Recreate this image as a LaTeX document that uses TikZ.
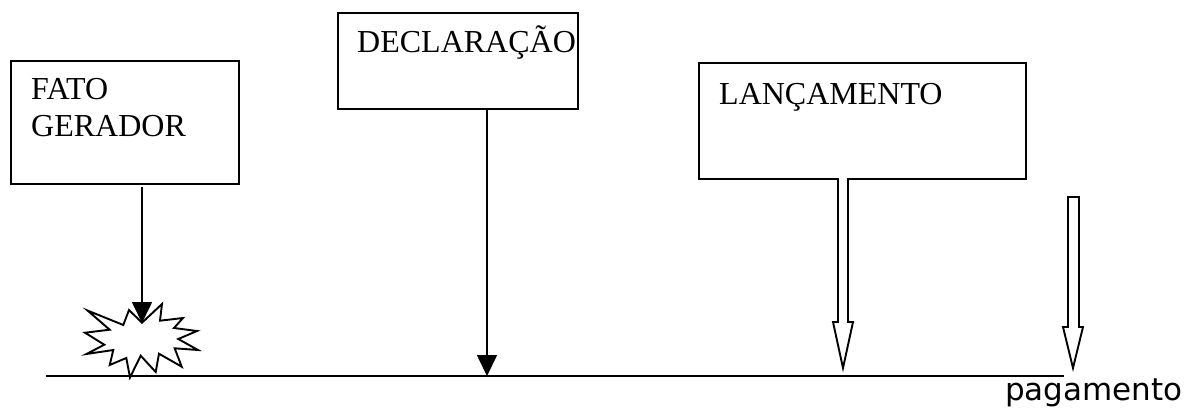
\documentclass[tikz,border=0pt]{standalone}
\usepackage{fontspec}
\setmainfont{Liberation Serif}
\newfontfamily\labelfont{DejaVu Sans}
\usetikzlibrary{arrows.meta}
\tikzset{
  boxnode/.style={draw=black,line width=2pt,fill=white,inner sep=0pt,anchor=north west},
  boxtext/.style={inner sep=0pt,anchor=base west,font=\fontsize{32}{36}\selectfont},
  thinarrow/.style={draw=black,line width=1.7pt,-{Triangle[length=21pt,width=20pt]}},
  hollowarrow/.style={draw=black,line width=1.9pt,fill=white,line join=miter},
  burst/.style={draw=black,line width=1.9pt,fill=white,line join=miter}
}
\begin{document}
\begin{tikzpicture}[x=1pt,y=-1pt]
\useasboundingbox (0,0) rectangle (1186,407);
\node[boxnode,minimum width=228pt,minimum height=123pt] (fato) at (10,60) {};
\node[boxnode,minimum width=240pt,minimum height=96pt] (decl) at (337,12) {};
\node[boxnode,minimum width=327pt,minimum height=116pt] (lanc) at (698,62) {};
\node[boxtext] (t1) at (31,99) {FATO};
\node[boxtext] (t2) at (31,136) {GERADOR};
\node[boxtext] (t3) at (357,52) {DECLARAÇÃO};
\node[boxtext] (t4) at (719,104) {LANÇAMENTO};
\coordinate (bl) at (46,376);
\coordinate (br) at (1064,376);
\draw[line width=1.9pt] (bl) -- (br);
\draw[burst] (130,377.5) -- (140.7,355.7) -- (155.7,372) -- (159,353.7) -- (181.7,366.7) -- (174.7,348.3) -- (198,350) -- (178.3,339) -- (197,331) -- (174,328) -- (183,318) -- (160,320.7) -- (162,304) -- (142,322.7) -- (129,310) -- (123.3,325) -- (87.5,310.5) -- (109.7,329.7) -- (85,332.7) -- (104.3,344.7) -- (86.5,354) -- (113.3,350) -- (109.7,365) -- (126.3,358) -- cycle;
\coordinate (a1s) at (142,187);
\coordinate (a1e) at (142,323);
\draw[thinarrow] (a1s) -- (a1e);
\coordinate (a2e) at (487,376);
\draw[thinarrow] (decl.south -| a2e) -- (a2e);
\draw[hollowarrow] (838,178) -- (838,322) -- (833,322) -- (843,368) -- (853,322) -- (848,322) -- (848,178);
\draw[hollowarrow] (1068,197) -- (1068,327) -- (1063,327) -- (1073,368) -- (1083,327) -- (1079,327) -- (1079,197) -- cycle;
\node[inner sep=0pt,anchor=base west,font=\labelfont\fontsize{31}{36}\selectfont] (pag) at (1005,400) {pagamento};
\end{tikzpicture}
\end{document}
